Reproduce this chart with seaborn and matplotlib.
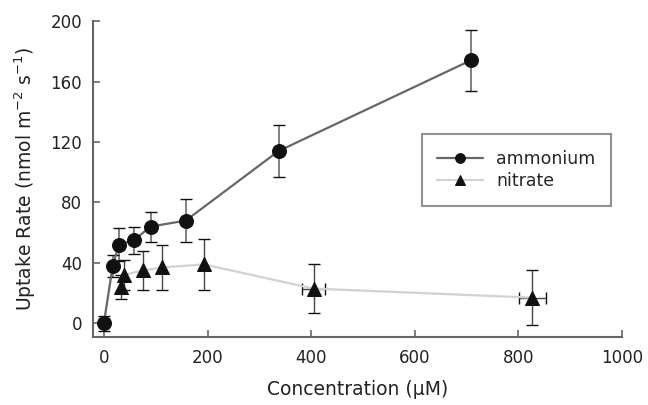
"""
Uptake rate vs concentration for ammonium and nitrate
"""

import numpy as np
import pandas as pd
import matplotlib
matplotlib.use("Agg")
import matplotlib.pyplot as plt
import seaborn as sns

# ammonium series
amm_conc = [0, 17, 29, 58, 90, 158, 337, 708]
amm_rate = [0, 38, 52, 55, 64, 68, 114, 174]
amm_err = [5, 7, 11, 9, 10, 14, 17, 20]

# nitrate series
nit_conc = [33, 38, 75, 112, 193, 405, 827]
nit_rate = [24, 32, 35, 37, 39, 23, 17]
nit_err = [8, 10, 13, 15, 17, 16, 18]
nit_xerr = [0, 0, 0, 0, 0, 22, 26]

x_ticks = [0, 200, 400, 600, 800, 1000]
y_ticks = [0, 40, 80, 120, 160, 200]

sns.set_style("ticks")
plt.rcParams['font.family'] = ['DejaVu Sans']

df = pd.concat([
    pd.DataFrame({'conc': amm_conc, 'rate': amm_rate, 'ion': 'ammonium'}),
    pd.DataFrame({'conc': nit_conc, 'rate': nit_rate, 'ion': 'nitrate'}),
])

fig = plt.figure(figsize=(6.48, 4.05), dpi=100)
ax = fig.add_axes([0.1435, 0.168, 0.8165, 0.78])

# error bars first so markers sit on top
ax.errorbar(amm_conc, amm_rate, yerr=amm_err, fmt='none', ecolor='#808080',
            elinewidth=1.4, capsize=4, capthick=1.0, zorder=1)
ax.errorbar(nit_conc, nit_rate, yerr=nit_err, xerr=nit_xerr, fmt='none',
            ecolor='#444444', elinewidth=1.0, capsize=4, capthick=1.0,
            linestyle=':', zorder=1)

sns.lineplot(data=df, x='conc', y='rate', hue='ion', style='ion',
             markers={'ammonium': 'o', 'nitrate': '^'}, dashes=False,
             palette={'ammonium': '#666666', 'nitrate': '#d2d2d2'},
             linewidth=1.6, markersize=10, markeredgecolor='#111111',
             ax=ax, zorder=3, sort=False)

for line in ax.get_lines():
    line.set_markerfacecolor('#111111')
    line.set_markeredgecolor('#111111')

ax.set_xlim(-21, 1000)
ax.set_ylim(-9, 200)
ax.set_xticks(x_ticks)
ax.set_yticks(y_ticks)
ax.tick_params(direction='in', length=5, width=1.2, colors='#666666',
               labelcolor='#222222', labelsize=12)
ax.tick_params(axis='x', pad=9)
ax.tick_params(axis='y', pad=8)
for side in ['top', 'right']:
    ax.spines[side].set_visible(False)
for side in ['left', 'bottom']:
    ax.spines[side].set_color('#666666')
    ax.spines[side].set_linewidth(1.5)

ax.set_xlabel('Concentration (µM)', fontsize=13.5, color='#222222', labelpad=9)
ax.set_ylabel('Uptake Rate (nmol m$^{-2}$ s$^{-1}$)', fontsize=13.5,
              color='#222222', labelpad=9)

handles, labels = ax.get_legend_handles_labels()
leg = ax.legend(handles, labels, loc='upper left', bbox_to_anchor=(0.605, 0.67),
                frameon=True, fancybox=False, fontsize=12.5, handlelength=2.6,
                markerscale=0.7, borderpad=0.9, labelspacing=0.25,
                handletextpad=0.8)
leg.get_frame().set_edgecolor('#777777')
leg.get_frame().set_linewidth(1.5)

plt.savefig('out.png', dpi=100)
plt.close()
